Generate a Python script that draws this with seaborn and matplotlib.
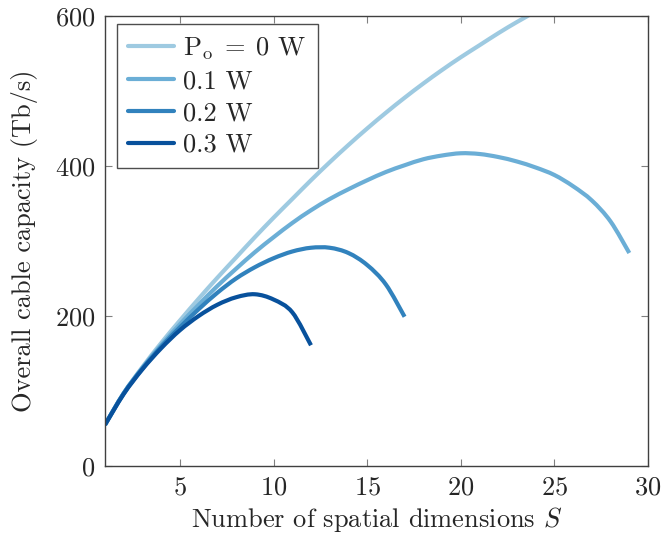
import matplotlib
matplotlib.use("Agg")
import matplotlib.pyplot as plt
from matplotlib.path import Path
from matplotlib.patches import PathPatch
import numpy as np
import pandas as pd
import seaborn as sns

# Overall cable capacity (Tb/s) versus number of spatial dimensions S,
# one curve per optical power budget P_o.
labels = [r"$\mathrm{P_o}\;=\;0$ W", "0.1 W", "0.2 W", "0.3 W"]

s_p00 = list(range(1, 25))
c_p00 = [55, 97, 132, 164, 194, 223, 251, 278, 305, 331, 356, 381,
         405, 428, 450, 471, 491, 510, 528, 545, 561, 577, 592, 606]

s_p01 = list(range(1, 30))
c_p01 = [55, 97, 131, 161, 189, 215, 240, 263, 285, 305, 324, 341,
         356, 369, 381, 392, 401, 409, 414, 417, 416, 412, 406, 398,
         388, 373, 354, 326, 284]

s_p02 = list(range(1, 18))
c_p02 = [55, 97, 130, 159, 185, 209, 231, 250, 265, 277, 286, 291,
         291, 284, 268, 242, 199]

s_p03 = list(range(1, 13))
c_p03 = [55, 96, 129, 157, 181, 200, 215, 225, 229, 222, 205, 161]

colors = ["#9ecae1", "#6baed6", "#3182bd", "#08519c"]

frames = []
for lab, s, c in zip(labels, [s_p00, s_p01, s_p02, s_p03],
                     [c_p00, c_p01, c_p02, c_p03]):
    frames.append(pd.DataFrame({"S": s, "C": c, "P": lab}))
df = pd.concat(frames, ignore_index=True)

sns.set_style("ticks")
plt.rcParams["font.family"] = ["cmr10", "DejaVu Serif"]
plt.rcParams["mathtext.fontset"] = "cm"
plt.rcParams["axes.formatter.use_mathtext"] = True

fig = plt.figure(figsize=(6.62, 5.37), dpi=100)
ax = fig.add_axes([0.1586, 0.1322, 0.8203, 0.838])

LW = 3.0
sns.lineplot(data=df, x="S", y="C", hue="P", hue_order=labels,
             palette=colors, linewidth=LW, ax=ax, legend=True,
             sort=False)


def smooth_path(xy):
    """Cubic Bezier path through the points (cardinal spline)."""
    n = len(xy)
    verts = [xy[0]]
    codes = [Path.MOVETO]
    for i in range(n - 1):
        p0 = xy[max(i - 1, 0)]
        p1 = xy[i]
        p2 = xy[i + 1]
        p3 = xy[min(i + 2, n - 1)]
        c1 = p1 + (p2 - p0) / 6.0
        c2 = p2 - (p3 - p1) / 6.0
        verts += [c1, c2, p2]
        codes += [Path.CURVE4] * 3
    return Path(np.array(verts), codes)


# Render each series as a smooth curve through its data points
for line in list(ax.lines):
    xy = np.asarray(line.get_xydata(), dtype=float)
    if len(xy) < 2:
        continue
    patch = PathPatch(smooth_path(xy), facecolor="none",
                      edgecolor=line.get_color(), linewidth=LW,
                      capstyle="butt", joinstyle="round",
                      zorder=line.get_zorder())
    ax.add_patch(patch)
    line.set_visible(False)

ax.set_xlim(1, 30)
ax.set_ylim(0, 600)
ax.set_xticks([5, 10, 15, 20, 25, 30])
ax.set_yticks([0, 200, 400, 600])
fs = 19
ax.tick_params(direction="in", length=5, width=0.8, color="#808080",
               labelsize=fs, top=True, right=True, pad=7)
for sp in ax.spines.values():
    sp.set_color("#404040")
    sp.set_linewidth(1.0)

ax.set_xlabel(r"Number of spatial dimensions $S$", fontsize=fs, labelpad=4)
ax.set_ylabel("Overall cable capacity (Tb/s)", fontsize=fs, labelpad=12)

handles, labs = ax.get_legend_handles_labels()
leg = ax.legend(handles, labs, loc="upper left",
                bbox_to_anchor=(0.0215, 0.9816), borderaxespad=0.0,
                fontsize=fs, frameon=True, fancybox=False,
                handlelength=1.75, handletextpad=0.35, borderpad=0.42,
                labelspacing=0.3)
leg.get_frame().set_edgecolor("#222222")
leg.get_frame().set_linewidth(1.0)
for line in leg.get_lines():
    line.set_linewidth(LW)
    line.set_visible(True)

fig.savefig("out.png", dpi=100)
